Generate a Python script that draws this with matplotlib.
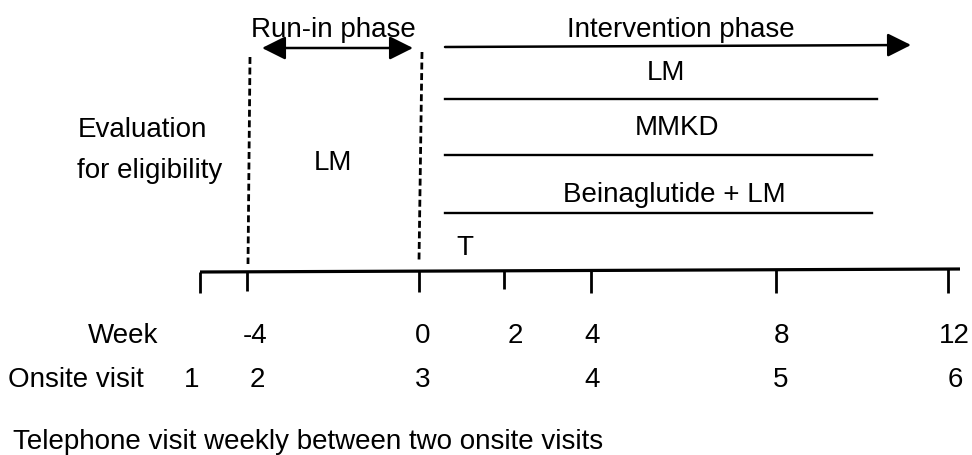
import matplotlib
matplotlib.use("Agg")
import matplotlib.pyplot as plt

plt.rcParams['font.family'] = ['Liberation Sans', 'DejaVu Sans']

# week labels and onsite visit numbers
weeks = ['-4', '0', '2', '4', '8', '12']
visits = ['1', '2', '3', '4', '5', '6']
arms = ['LM', 'MMKD', 'Beinaglutide + LM']

# layout (pixel space)
week_x = [255, 423, 515, 592, 781, 954]
visit_x = [192, 257, 423, 592, 781, 955]
tick_x = [200, 247, 419, 504, 591, 776, 948]
tick_bottom = [293, 291, 292, 289, 293, 293, 293]
arm_text_x = [666, 677, 674]
arm_text_y = [80, 135, 202]
arm_line_y = [99, 155, 213]
arm_line_end = [877, 872, 872]

fig = plt.figure(figsize=(9.72, 4.55), dpi=100)
ax = fig.add_axes([0, 0, 1, 1])
ax.set_xlim(0, 972)
ax.set_ylim(455, 0)
ax.axis('off')

fs = 20
kw = dict(fontsize=fs, va='baseline')

# timeline
ax.plot([200, 960], [272, 269], color='black', lw=2.3, solid_capstyle='butt')
for x, yb in zip(tick_x, tick_bottom):
    y0 = 272 - (x - 200) * 3 / 760
    ax.plot([x, x], [y0, yb], color='black', lw=2.0, solid_capstyle='butt')

# dashed phase boundaries
ax.plot([250, 248], [57, 264], color='black', lw=2.0, ls=(0, (2.5, 1.3)))
ax.plot([422, 419], [52, 261], color='black', lw=2.0, ls=(0, (2.5, 1.3)))

# run-in arrow
ax.annotate('', xy=(262, 48), xytext=(413, 48),
            arrowprops=dict(arrowstyle='<|-|>', color='black', lw=1.8,
                            mutation_scale=36, shrinkA=0, shrinkB=0))
ax.text(333, 37, 'Run-in phase', ha='center', **kw)

# intervention arrow
ax.annotate('', xy=(911, 45), xytext=(445, 47),
            arrowprops=dict(arrowstyle='-|>', color='black', lw=1.8,
                            mutation_scale=36, shrinkA=0, shrinkB=0))
ax.text(681, 37, 'Intervention phase', ha='center', **kw)

for name, tx, ty, ly, le in zip(arms, arm_text_x, arm_text_y, arm_line_y, arm_line_end):
    ax.text(tx, ty, name, ha='center', **kw)
    ax.plot([445, le], [ly, ly], color='black', lw=1.7)

ax.text(465, 255, 'T', ha='center', **kw)
ax.text(333, 170, 'LM', ha='center', **kw)
ax.text(78, 137, 'Evaluation', ha='left', **kw)
ax.text(77, 178, 'for eligibility', ha='left', **kw)

# week and visit rows
ax.text(158, 343, 'Week', ha='right', **kw)
for x, w in zip(week_x, weeks):
    ax.text(x, 343, w, ha='center', **kw)
ax.text(8, 387, 'Onsite visit', ha='left', **kw)
for x, v in zip(visit_x, visits):
    ax.text(x, 387, v, ha='center', **kw)

ax.text(13, 449, 'Telephone visit weekly between two onsite visits', ha='left', **kw)

fig.savefig('out.png', dpi=100)
